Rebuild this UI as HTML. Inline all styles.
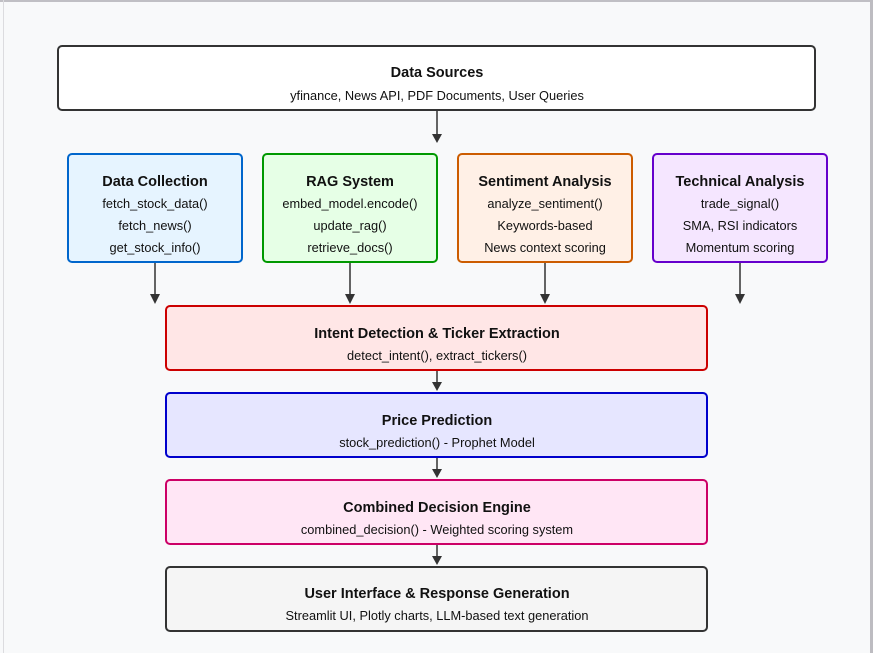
<!DOCTYPE html>
<html><head><meta charset="utf-8"><style>
html,body{margin:0;padding:0;background:#f8f9fa;}
svg{display:block;}
text{font-family:"Liberation Sans",Arial,sans-serif;text-anchor:middle;fill:#111;}
.t{font-weight:bold;font-size:14.5px;}
.s{font-size:12.8px;}
</style></head><body>
<svg width="873" height="653" viewBox="0 0 873 653" xmlns="http://www.w3.org/2000/svg">
<rect x="0" y="0" width="873" height="653" fill="#f8f9fa"/>
<rect x="0" y="0" width="873" height="2" fill="#c0bfc4"/>
<rect x="3" y="0" width="1" height="653" fill="#dcdcdf"/>
<rect x="870" y="0" width="3" height="653" fill="#bdbcc1"/>

<rect x="58" y="46" width="757" height="64" rx="4" fill="#fff" stroke="#333" stroke-width="2"/>
<text class="t" x="437" y="77">Data Sources</text>
<text class="s" x="437" y="100">yfinance, News API, PDF Documents, User Queries</text>

<g stroke="#333" stroke-width="1.5">
<line x1="437" y1="111" x2="437" y2="136"/>
<line x1="155" y1="263" x2="155" y2="296"/>
<line x1="350" y1="263" x2="350" y2="296"/>
<line x1="545" y1="263" x2="545" y2="296"/>
<line x1="740" y1="263" x2="740" y2="296"/>
<line x1="437" y1="371" x2="437" y2="384"/>
<line x1="437" y1="458" x2="437" y2="471"/>
<line x1="437" y1="545" x2="437" y2="558"/>
</g>
<g fill="#333">
<path d="M432,134 L442,134 L437,143 z"/>
<path d="M150,294 L160,294 L155,304 z"/>
<path d="M345,294 L355,294 L350,304 z"/>
<path d="M540,294 L550,294 L545,304 z"/>
<path d="M735,294 L745,294 L740,304 z"/>
<path d="M432,382 L442,382 L437,391 z"/>
<path d="M432,469 L442,469 L437,478 z"/>
<path d="M432,556 L442,556 L437,565 z"/>
</g>

<rect x="68" y="154" width="174" height="108" rx="4" fill="#e6f4ff" stroke="#0066cc" stroke-width="2"/>
<text class="t" x="155" y="186">Data Collection</text>
<text class="s" x="155" y="208">fetch_stock_data()</text>
<text class="s" x="155" y="230">fetch_news()</text>
<text class="s" x="155" y="252">get_stock_info()</text>

<rect x="263" y="154" width="174" height="108" rx="4" fill="#e6ffe6" stroke="#009900" stroke-width="2"/>
<text class="t" x="350" y="186">RAG System</text>
<text class="s" x="350" y="208">embed_model.encode()</text>
<text class="s" x="350" y="230">update_rag()</text>
<text class="s" x="350" y="252">retrieve_docs()</text>

<rect x="458" y="154" width="174" height="108" rx="4" fill="#fff0e6" stroke="#cc5c00" stroke-width="2"/>
<text class="t" x="545" y="186">Sentiment Analysis</text>
<text class="s" x="545" y="208">analyze_sentiment()</text>
<text class="s" x="545" y="230">Keywords-based</text>
<text class="s" x="545" y="252">News context scoring</text>

<rect x="653" y="154" width="174" height="108" rx="4" fill="#f5e6ff" stroke="#6600cc" stroke-width="2"/>
<text class="t" x="740" y="186">Technical Analysis</text>
<text class="s" x="740" y="208">trade_signal()</text>
<text class="s" x="740" y="230">SMA, RSI indicators</text>
<text class="s" x="740" y="252">Momentum scoring</text>

<rect x="166" y="306" width="541" height="64" rx="4" fill="#ffe6e6" stroke="#cc0000" stroke-width="2"/>
<text class="t" x="437" y="338">Intent Detection &amp; Ticker Extraction</text>
<text class="s" x="437" y="360">detect_intent(), extract_tickers()</text>

<rect x="166" y="393" width="541" height="64" rx="4" fill="#e6e6ff" stroke="#0000cc" stroke-width="2"/>
<text class="t" x="437" y="425">Price Prediction</text>
<text class="s" x="437" y="447">stock_prediction() - Prophet Model</text>

<rect x="166" y="480" width="541" height="64" rx="4" fill="#ffe6f5" stroke="#cc0066" stroke-width="2"/>
<text class="t" x="437" y="512">Combined Decision Engine</text>
<text class="s" x="437" y="534">combined_decision() - Weighted scoring system</text>

<rect x="166" y="567" width="541" height="64" rx="4" fill="#f5f5f5" stroke="#333" stroke-width="2"/>
<text class="t" x="437" y="598">User Interface &amp; Response Generation</text>
<text class="s" x="437" y="620">Streamlit UI, Plotly charts, LLM-based text generation</text>
</svg>
</body></html>
